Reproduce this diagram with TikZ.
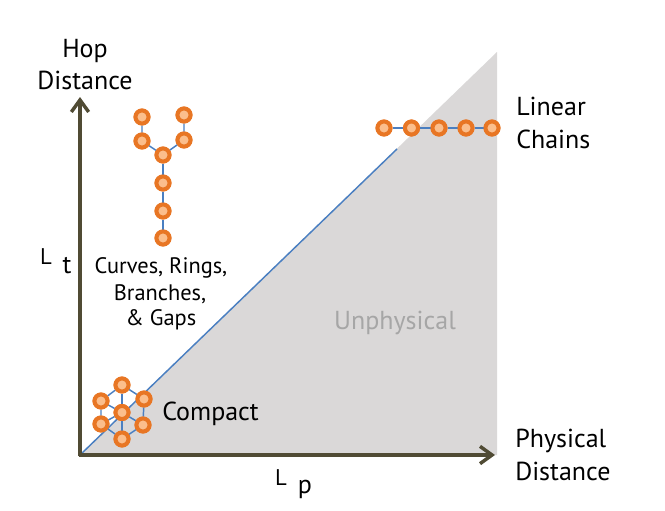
\documentclass[tikz,border=0pt]{standalone}
\usepackage{fontspec}
\setmainfont{PT Sans}
\usetikzlibrary{arrows.meta}
\definecolor{axisC}{RGB}{80,75,52}
\definecolor{grayR}{RGB}{218,216,216}
\definecolor{blueL}{RGB}{74,127,193}
\definecolor{orangeC}{RGB}{232,118,36}
\definecolor{peach}{RGB}{251,190,140}
\definecolor{unph}{RGB}{166,166,166}
\tikzset{
  atom/.style={circle, draw=orangeC, line width=3pt, fill=peach, minimum size=9.75pt, inner sep=0pt},
  bond/.style={draw=blueL, line width=1.1pt},
  axisline/.style={draw=axisC, line width=2.6pt, -{Straight Barb[length=9pt,width=13pt,line width=2.6pt]}},
  lbl/.style={font=\fontsize{19.5}{23}\selectfont, anchor=base, inner sep=0pt},
  lblw/.style={font=\fontsize{19.5}{23}\selectfont, anchor=base west, inner sep=0pt},
  small/.style={font=\fontsize{16.8}{20}\selectfont, anchor=base, inner sep=0pt},
  tiny/.style={font=\fontsize{17}{20}\selectfont, anchor=base, inner sep=0pt},
}
\begin{document}
\begin{tikzpicture}[x=0.75pt,y=-0.75pt]
\useasboundingbox (0,0) rectangle (665,511);
% unphysical region
\fill[grayR] (80,455) -- (497,52) -- (497,455) -- cycle;
% diagonal
\coordinate (o) at (80,455);
\coordinate (d) at (397,149);
\draw[blueL, line width=1.1pt] (o) -- (d);
% axes
\coordinate (ytip) at (80,97);
\coordinate (xtip) at (495,455);
\coordinate (ycorner) at (80,456.3);
\coordinate (xcorner) at (78.7,455);
\draw[axisline] (ycorner) -- (ytip);
\draw[axisline] (xcorner) -- (xtip);

% linear chain
\foreach \i/\x in {1/384,2/411.5,3/439,4/466,5/492}{
  \node[atom] (c\i) at (\x,128) {};
}
\draw[bond] (c1) -- (c2) -- (c3) -- (c4) -- (c5);
\foreach \i in {1,...,5}{ \node[atom] at (c\i) {}; }

% Y branch
\node[atom] (ytl) at (142,117) {};
\node[atom] (ytr) at (184,115) {};
\node[atom] (yl2) at (142,141) {};
\node[atom] (yr2) at (184,140) {};
\node[atom] (yc) at (163,155) {};
\node[atom] (y1) at (163,183) {};
\node[atom] (y2) at (163,211) {};
\node[atom] (y3) at (163,238) {};
\draw[bond] (ytl) -- (yl2) -- (yc) -- (yr2) -- (ytr);
\draw[bond] (yc) -- (y1) -- (y2) -- (y3);
\foreach \n in {ytl,ytr,yl2,yr2,yc,y1,y2,y3}{ \node[atom] at (\n) {}; }

% compact cluster
\node[atom] (kt) at (122,385) {};
\node[atom] (kul) at (101,401) {};
\node[atom] (kur) at (144,399) {};
\node[atom] (kc) at (122,412.5) {};
\node[atom] (kll) at (101,424) {};
\node[atom] (klr) at (143,425) {};
\node[atom] (kb) at (122,439) {};
\draw[bond] (kt) -- (kul) -- (kll) -- (kb) -- (klr) -- (kur) -- (kt);
\draw[bond] (kc) -- (kt);
\draw[bond] (kc) -- (kb);
\draw[bond] (kc) -- (kul);
\draw[bond] (kc) -- (kll);
\draw[bond] (kc) -- (klr);
\foreach \n in {kt,kul,kur,kc,kll,klr,kb}{ \node[atom] at (\n) {}; }

% labels
\node[lbl] (hop) at (85,57) {Hop};
\node[lbl] (hd) at (85,89) {Distance};
\node[tiny] (lt1) at (46,264) {L};
\node[lbl] (lt2) at (67,273) {t};
\node[tiny] (lp1) at (281,485) {L};
\node[lbl] (lp2) at (305,493) {p};
\node[small] (cr1) at (161,273) {Curves, Rings,};
\node[small] (cr2) at (160,300) {Branches,};
\node[small] (cr3) at (161,325) {\& Gaps};
\node[lbl, text=unph] (unp) at (395,329) {Unphysical};
\node[lblw] (comp) at (162,420) {Compact};
\node[lblw] (lin1) at (516,115) {Linear};
\node[lblw] (lin2) at (516,148) {Chains};
\node[lblw] (ph1) at (515,447) {Physical};
\node[lblw] (ph2) at (515,480) {Distance};
\end{tikzpicture}
\end{document}
